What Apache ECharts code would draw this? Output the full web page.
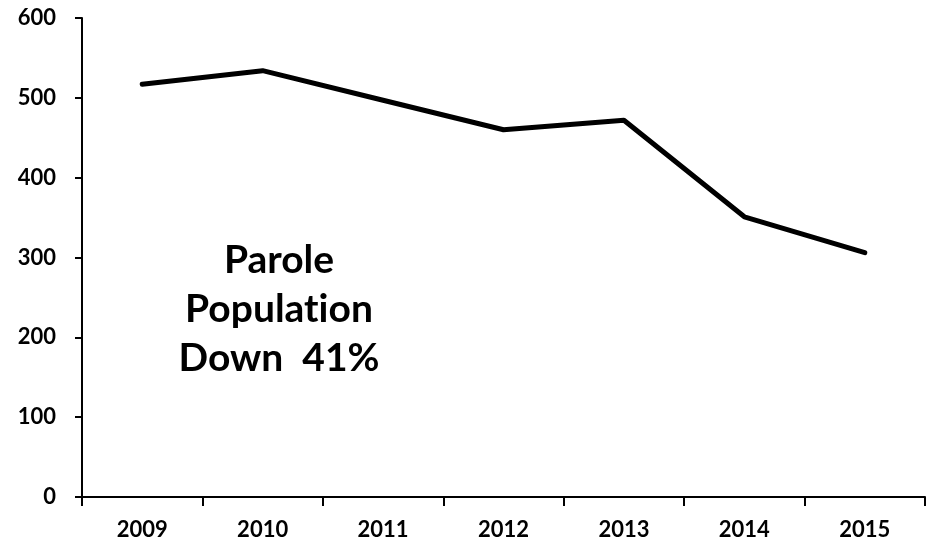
<!DOCTYPE html>
<html>
<head>
<meta charset="utf-8">
<title>Parole Population</title>
<script src="https://cdn.jsdelivr.net/npm/echarts@6/dist/echarts.min.js"></script>
<style>
  html, body { margin: 0; padding: 0; background: #fff; }
  #chart { width: 938px; height: 546px; }
</style>
</head>
<body>
<div id="chart"></div>
<script>
// Parole population by year
const years = ['2009', '2010', '2011', '2012', '2013', '2014', '2015'];
const parolePopulation = [517, 534, 497, 460, 472, 351, 306];
const yTicks = { min: 0, max: 600, interval: 100 };
// ZWNJ keeps "t" and "i" from merging into a ligature
const noteLines = ['Parole', 'Populat\u200Cion', 'Down  41%'];

const FONT = 'Lato, "Open Sans", sans-serif';

const chart = echarts.init(document.getElementById('chart'), null, { renderer: 'canvas' });

chart.setOption({
  backgroundColor: '#ffffff',
  animation: false,
  grid: { left: 82, right: 13, top: 18, bottom: 49, containLabel: false },
  xAxis: {
    type: 'category',
    data: years,
    boundaryGap: true,
    axisLine: { show: true, lineStyle: { color: '#000', width: 2 } },
    axisTick: { show: true, inside: false, length: 9, alignWithLabel: false, lineStyle: { color: '#000', width: 2 } },
    axisLabel: { color: '#000', fontFamily: FONT, fontWeight: 'bold', fontSize: 22, margin: 22 },
    splitLine: { show: false }
  },
  yAxis: {
    type: 'value',
    min: yTicks.min,
    max: yTicks.max,
    interval: yTicks.interval,
    axisLine: { show: true, lineStyle: { color: '#000', width: 2 } },
    axisTick: { show: true, inside: false, length: 7, lineStyle: { color: '#000', width: 2 } },
    axisLabel: { color: '#000', fontFamily: FONT, fontWeight: 'bold', fontSize: 22, margin: 26 },
    splitLine: { show: false }
  },
  series: [{
    type: 'line',
    data: parolePopulation,
    symbol: 'none',
    lineStyle: { color: '#000', width: 5, cap: 'round', join: 'round' },
    z: 3
  }],
  graphic: [{
    type: 'text',
    x: 279,
    y: 236,
    style: {
      text: noteLines.join('\n'),
      align: 'center',
      verticalAlign: 'top',
      fill: '#000',
      font: 'bold 39px ' + FONT,
      lineHeight: 49
    }
  }]
});
</script>
</body>
</html>
